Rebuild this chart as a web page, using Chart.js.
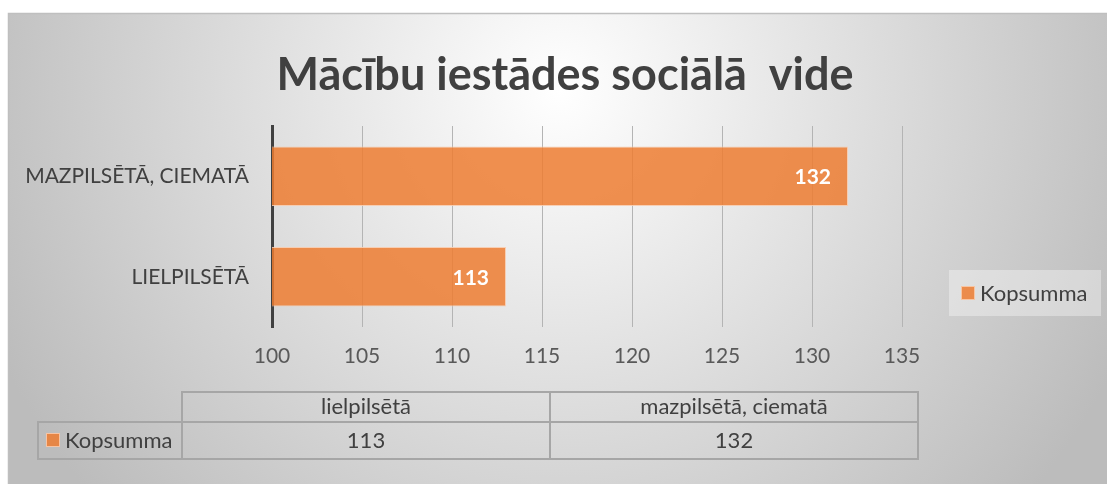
<!DOCTYPE html>
<html lang="lv">
<head>
<meta charset="utf-8">
<title>Mācību iestādes sociālā vide</title>
<script src="https://cdn.jsdelivr.net/npm/chart.js@4"></script>
<style>
  html, body { margin: 0; padding: 0; background: #ffffff; }
  #wrap { width: 1107px; height: 484px; position: relative; }
</style>
</head>
<body>
<div id="wrap"><canvas id="chartCanvas"></canvas></div>
<script>
// Chart data
const categories = ["lielpilsētā", "mazpilsētā, ciematā"];
const seriesName = "Kopsumma";
const seriesValues = [113, 132];
const xTicks = [100, 105, 110, 115, 120, 125, 130, 135];

const chartTitle = "Mācību iestādes sociālā  vide";
const fontFamily = "Lato, 'Open Sans', sans-serif";
const textColor = "#404040";
const barColor = "rgba(237, 125, 49, 0.85)";
const barBorder = "rgba(248, 203, 173, 0.9)";

// Background with frame, soft radial gradient and the title
const backgroundPlugin = {
  id: "background",
  beforeDraw(chart) {
    const ctx = chart.ctx;
    ctx.save();
    ctx.fillStyle = "#ffffff";
    ctx.fillRect(0, 0, chart.width, chart.height);
    const grad = ctx.createRadialGradient(560, 90, 0, 560, 90, 620);
    grad.addColorStop(0, "#ffffff");
    grad.addColorStop(1, "#bcbcbc");
    ctx.fillStyle = grad;
    ctx.fillRect(8, 13, chart.width - 8, chart.height - 13);
    ctx.strokeStyle = "#bfbfbf";
    ctx.lineWidth = 1.5;
    ctx.strokeRect(8.5, 13.5, chart.width, chart.height);

    // title
    ctx.font = "bold 45px " + fontFamily;
    ctx.fillStyle = textColor;
    ctx.textAlign = "center";
    ctx.textBaseline = "middle";
    ctx.fillText(chartTitle, 565, 75);
    ctx.restore();
  },
};

// White value labels inside the bar ends
const valueLabelPlugin = {
  id: "valueLabels",
  afterDatasetsDraw(chart) {
    const ctx = chart.ctx;
    const meta = chart.getDatasetMeta(0);
    ctx.save();
    ctx.font = "bold 21px " + fontFamily;
    ctx.fillStyle = "#ffffff";
    ctx.textAlign = "right";
    ctx.textBaseline = "middle";
    meta.data.forEach((bar, i) => {
      ctx.fillText(String(seriesValues[i]), bar.x - 17, bar.y + 1);
    });
    ctx.restore();
  },
};

// Legend on the right and data table under the chart
const legendTablePlugin = {
  id: "legendTable",
  afterDraw(chart) {
    const ctx = chart.ctx;
    ctx.save();

    // legend box
    ctx.fillStyle = "rgba(255, 255, 255, 0.35)";
    ctx.fillRect(949, 270, 152, 46);
    drawSwatch(ctx, 961, 286);
    ctx.font = "22px " + fontFamily;
    ctx.fillStyle = textColor;
    ctx.textAlign = "left";
    ctx.textBaseline = "middle";
    ctx.fillText(seriesName, 980, 294);

    // table
    const left = 182;
    const right = 918;
    const headTop = 392;
    const rowTop = 422;
    const rowBottom = 459;
    const colW = (right - left) / categories.length;

    ctx.strokeStyle = "#a6a6a6";
    ctx.lineWidth = 2;
    ctx.strokeRect(left, headTop, right - left, rowTop - headTop);
    ctx.strokeRect(38, rowTop, right - 38, rowBottom - rowTop);
    for (let i = 0; i < categories.length; i++) {
      const x = left + colW * i;
      ctx.beginPath();
      ctx.moveTo(x, headTop);
      ctx.lineTo(x, rowBottom);
      ctx.stroke();
    }

    ctx.font = "22px " + fontFamily;
    ctx.fillStyle = textColor;
    ctx.textAlign = "center";
    categories.forEach((cat, i) => {
      const cx = left + colW * (i + 0.5);
      ctx.fillText(cat, cx, 407);
      ctx.fillText(String(seriesValues[i]), cx, 441);
    });

    drawSwatch(ctx, 46, 433);
    ctx.fillStyle = textColor;
    ctx.textAlign = "left";
    ctx.fillText(seriesName, 65, 441);

    ctx.restore();
  },
};

function drawSwatch(ctx, x, y) {
  ctx.fillStyle = barColor;
  ctx.fillRect(x, y, 14, 14);
  ctx.strokeStyle = barBorder;
  ctx.lineWidth = 1;
  ctx.strokeRect(x + 0.5, y + 0.5, 13, 13);
}

window.onload = function () {
  const ctx = document.getElementById("chartCanvas").getContext("2d");

  new Chart(ctx, {
    type: "bar",
    data: {
      labels: categories,
      datasets: [
        {
          label: seriesName,
          data: seriesValues,
          backgroundColor: barColor,
          borderColor: barBorder,
          borderWidth: 1,
          barPercentage: 0.59,
          categoryPercentage: 1.0,
        },
      ],
    },
    options: {
      indexAxis: "y",
      responsive: true,
      maintainAspectRatio: false,
      animation: false,
      layout: {
        padding: { top: 126, left: 0, right: 205, bottom: 0 },
      },
      scales: {
        x: {
          min: xTicks[0],
          max: xTicks[xTicks.length - 1],
          afterBuildTicks(scale) {
            scale.ticks = xTicks.map((v) => ({ value: v }));
          },
          afterFit(scale) {
            scale.height = 157;
          },
          grid: { color: "#b4b4b4", lineWidth: 1, drawTicks: false },
          border: { display: false },
          ticks: {
            font: { family: fontFamily, size: 21 },
            color: "#595959",
            padding: 17,
          },
        },
        y: {
          reverse: true,
          afterFit(scale) {
            scale.width = 272;
          },
          grid: { display: false, drawTicks: false },
          border: { display: true, color: "#404040", width: 3 },
          ticks: {
            font: { family: fontFamily, size: 21 },
            color: textColor,
            padding: 23,
            callback: function (value) {
              return categories[value].toUpperCase();
            },
          },
        },
      },
      plugins: {
        legend: { display: false },
        tooltip: { enabled: false },
        title: { display: false },
      },
    },
    plugins: [backgroundPlugin, valueLabelPlugin, legendTablePlugin],
  });
};
</script>
</body>
</html>
